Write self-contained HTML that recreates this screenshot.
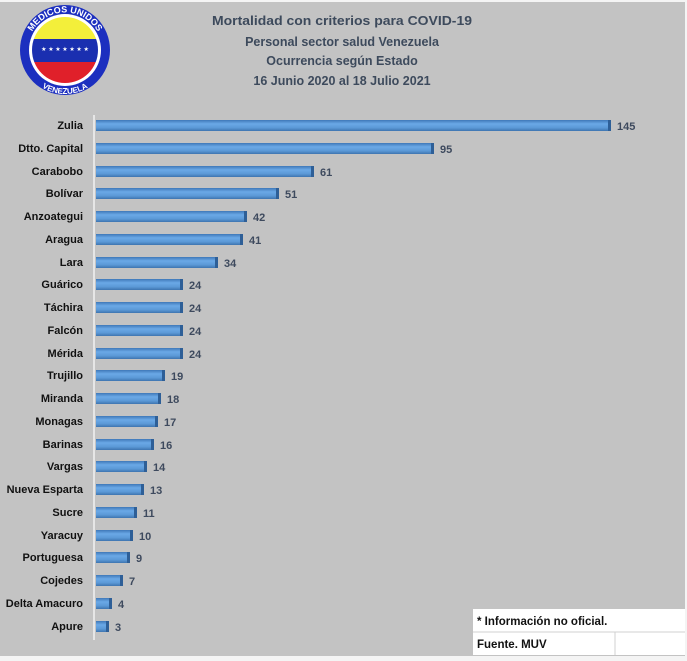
<!DOCTYPE html>
<html><head><meta charset="utf-8"><style>
html,body{margin:0;padding:0;background:#c3c3c3;}
svg{display:block;font-family:"Liberation Sans",sans-serif;}
</style></head><body>
<svg width="687" height="661" viewBox="0 0 687 661" xmlns="http://www.w3.org/2000/svg">
<defs>
<linearGradient id="bg" x1="0" y1="0" x2="0" y2="1">
<stop offset="0" stop-color="#3f78b8"/><stop offset="0.35" stop-color="#6aa8e6"/><stop offset="0.7" stop-color="#5c9ad8"/><stop offset="1" stop-color="#3e74b0"/>
</linearGradient>
<clipPath id="c"><circle cx="65" cy="50" r="33"/></clipPath>
</defs>
<rect width="687" height="661" fill="#c3c3c3"/>
<rect x="0" y="0" width="687" height="2" fill="#f4f4f4"/>
<rect x="685" y="0" width="2" height="661" fill="#f4f4f4"/>
<rect x="0" y="656" width="687" height="5" fill="#f4f4f4"/>
<!-- logo -->
<circle cx="65" cy="50" r="45" fill="#1c2fbf"/>
<circle cx="65" cy="50" r="36" fill="#fff"/>
<g clip-path="url(#c)">
<rect x="20" y="10" width="90" height="29" fill="#f3ef3a"/>
<rect x="20" y="39" width="90" height="23" fill="#1a2fb0"/>
<rect x="20" y="62" width="90" height="30" fill="#e0202a"/>
</g>
<text x="65" y="51" font-size="6" fill="#fff" text-anchor="middle">★ ★ ★ ★ ★ ★ ★</text>
<path id="ta" d="M27.5,50 A37.5,37.5 0 0 1 102.5,50" fill="none"/>
<text font-size="9" font-weight="bold" fill="#fff"><textPath href="#ta" startOffset="50%" text-anchor="middle">MEDICOS UNIDOS</textPath></text>
<path id="tb" d="M21,50 A44,44 0 0 0 109,50" fill="none"/>
<text font-size="8" font-weight="bold" fill="#fff"><textPath href="#tb" startOffset="50%" text-anchor="middle">VENEZUELA</textPath></text>
<!-- title -->
<g font-size="12.5" font-weight="bold" fill="#3d4a5c" text-anchor="middle">
<text x="342" y="25" textLength="260" lengthAdjust="spacingAndGlyphs">Mortalidad con criterios para COVID-19</text>
<text x="342" y="46">Personal sector salud Venezuela</text>
<text x="342" y="65">Ocurrencia según Estado</text>
<text x="342" y="85">16 Junio 2020 al 18 Julio 2021</text>
</g>
<rect x="93" y="115" width="2" height="525" fill="#e6e6e6"/>
<g font-size="11" font-weight="bold">
<text x="83" y="129" text-anchor="end" fill="#111">Zulia</text><rect x="96" y="120" width="514" height="11" fill="url(#bg)"/><rect x="608" y="120" width="3" height="11" fill="#2e5f97"/><text x="617" y="130" fill="#3e4a5e">145</text>
<text x="83" y="152" text-anchor="end" fill="#111">Dtto. Capital</text><rect x="96" y="143" width="337" height="11" fill="url(#bg)"/><rect x="431" y="143" width="3" height="11" fill="#2e5f97"/><text x="440" y="153" fill="#3e4a5e">95</text>
<text x="83" y="175" text-anchor="end" fill="#111">Carabobo</text><rect x="96" y="166" width="217" height="11" fill="url(#bg)"/><rect x="311" y="166" width="3" height="11" fill="#2e5f97"/><text x="320" y="176" fill="#3e4a5e">61</text>
<text x="83" y="197" text-anchor="end" fill="#111">Bolívar</text><rect x="96" y="188" width="181" height="11" fill="url(#bg)"/><rect x="276" y="188" width="3" height="11" fill="#2e5f97"/><text x="285" y="198" fill="#3e4a5e">51</text>
<text x="83" y="220" text-anchor="end" fill="#111">Anzoategui</text><rect x="96" y="211" width="149" height="11" fill="url(#bg)"/><rect x="244" y="211" width="3" height="11" fill="#2e5f97"/><text x="253" y="221" fill="#3e4a5e">42</text>
<text x="83" y="243" text-anchor="end" fill="#111">Aragua</text><rect x="96" y="234" width="146" height="11" fill="url(#bg)"/><rect x="240" y="234" width="3" height="11" fill="#2e5f97"/><text x="249" y="244" fill="#3e4a5e">41</text>
<text x="83" y="266" text-anchor="end" fill="#111">Lara</text><rect x="96" y="257" width="121" height="11" fill="url(#bg)"/><rect x="215" y="257" width="3" height="11" fill="#2e5f97"/><text x="224" y="267" fill="#3e4a5e">34</text>
<text x="83" y="288" text-anchor="end" fill="#111">Guárico</text><rect x="96" y="279" width="85" height="11" fill="url(#bg)"/><rect x="180" y="279" width="3" height="11" fill="#2e5f97"/><text x="189" y="289" fill="#3e4a5e">24</text>
<text x="83" y="311" text-anchor="end" fill="#111">Táchira</text><rect x="96" y="302" width="85" height="11" fill="url(#bg)"/><rect x="180" y="302" width="3" height="11" fill="#2e5f97"/><text x="189" y="312" fill="#3e4a5e">24</text>
<text x="83" y="334" text-anchor="end" fill="#111">Falcón</text><rect x="96" y="325" width="85" height="11" fill="url(#bg)"/><rect x="180" y="325" width="3" height="11" fill="#2e5f97"/><text x="189" y="335" fill="#3e4a5e">24</text>
<text x="83" y="357" text-anchor="end" fill="#111">Mérida</text><rect x="96" y="348" width="85" height="11" fill="url(#bg)"/><rect x="180" y="348" width="3" height="11" fill="#2e5f97"/><text x="189" y="358" fill="#3e4a5e">24</text>
<text x="83" y="379" text-anchor="end" fill="#111">Trujillo</text><rect x="96" y="370" width="67" height="11" fill="url(#bg)"/><rect x="162" y="370" width="3" height="11" fill="#2e5f97"/><text x="171" y="380" fill="#3e4a5e">19</text>
<text x="83" y="402" text-anchor="end" fill="#111">Miranda</text><rect x="96" y="393" width="64" height="11" fill="url(#bg)"/><rect x="158" y="393" width="3" height="11" fill="#2e5f97"/><text x="167" y="403" fill="#3e4a5e">18</text>
<text x="83" y="425" text-anchor="end" fill="#111">Monagas</text><rect x="96" y="416" width="60" height="11" fill="url(#bg)"/><rect x="155" y="416" width="3" height="11" fill="#2e5f97"/><text x="164" y="426" fill="#3e4a5e">17</text>
<text x="83" y="448" text-anchor="end" fill="#111">Barinas</text><rect x="96" y="439" width="57" height="11" fill="url(#bg)"/><rect x="151" y="439" width="3" height="11" fill="#2e5f97"/><text x="160" y="449" fill="#3e4a5e">16</text>
<text x="83" y="470" text-anchor="end" fill="#111">Vargas</text><rect x="96" y="461" width="50" height="11" fill="url(#bg)"/><rect x="144" y="461" width="3" height="11" fill="#2e5f97"/><text x="153" y="471" fill="#3e4a5e">14</text>
<text x="83" y="493" text-anchor="end" fill="#111">Nueva Esparta</text><rect x="96" y="484" width="46" height="11" fill="url(#bg)"/><rect x="141" y="484" width="3" height="11" fill="#2e5f97"/><text x="150" y="494" fill="#3e4a5e">13</text>
<text x="83" y="516" text-anchor="end" fill="#111">Sucre</text><rect x="96" y="507" width="39" height="11" fill="url(#bg)"/><rect x="134" y="507" width="3" height="11" fill="#2e5f97"/><text x="143" y="517" fill="#3e4a5e">11</text>
<text x="83" y="539" text-anchor="end" fill="#111">Yaracuy</text><rect x="96" y="530" width="36" height="11" fill="url(#bg)"/><rect x="130" y="530" width="3" height="11" fill="#2e5f97"/><text x="139" y="540" fill="#3e4a5e">10</text>
<text x="83" y="561" text-anchor="end" fill="#111">Portuguesa</text><rect x="96" y="552" width="32" height="11" fill="url(#bg)"/><rect x="127" y="552" width="3" height="11" fill="#2e5f97"/><text x="136" y="562" fill="#3e4a5e">9</text>
<text x="83" y="584" text-anchor="end" fill="#111">Cojedes</text><rect x="96" y="575" width="25" height="11" fill="url(#bg)"/><rect x="120" y="575" width="3" height="11" fill="#2e5f97"/><text x="129" y="585" fill="#3e4a5e">7</text>
<text x="83" y="607" text-anchor="end" fill="#111">Delta Amacuro</text><rect x="96" y="598" width="14" height="11" fill="url(#bg)"/><rect x="109" y="598" width="3" height="11" fill="#2e5f97"/><text x="118" y="608" fill="#3e4a5e">4</text>
<text x="83" y="630" text-anchor="end" fill="#111">Apure</text><rect x="96" y="621" width="11" height="11" fill="url(#bg)"/><rect x="106" y="621" width="3" height="11" fill="#2e5f97"/><text x="115" y="631" fill="#3e4a5e">3</text>
</g>
<!-- legend box -->
<rect x="473" y="609" width="212" height="46" fill="#fff"/>
<line x1="473" y1="632" x2="685" y2="632" stroke="#d0d0d0"/>
<line x1="615" y1="632" x2="615" y2="655" stroke="#d0d0d0"/>
<g font-size="11.5" font-weight="bold" fill="#111">
<text x="477" y="625">* Información no oficial.</text>
<text x="477" y="648">Fuente. MUV</text>
</g>
</svg>
</body></html>
